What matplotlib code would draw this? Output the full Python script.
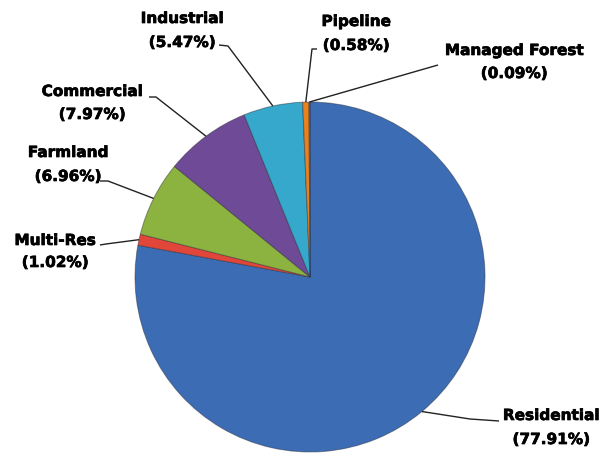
import numpy as np
import matplotlib
matplotlib.use("Agg")
import matplotlib.pyplot as plt
import matplotlib.patheffects as pe

categories = ["Residential", "Multi-Res", "Farmland", "Commercial",
              "Industrial", "Pipeline", "Managed Forest"]
values = [77.91, 1.02, 6.96, 7.97, 5.47, 0.58, 0.09]
colors = ["#3C6DB4", "#E0473A", "#8CB33F", "#6F4A97", "#35A8CB", "#E8821E", "#4A7CC0"]

# label layout (image pixel coords): text centre x, baseline of name, baseline of pct,
# leader line start and elbow
layout = {
    "Residential":    dict(x=551, y1=420, y2=444, start=(499, 421), elbow=(470, 419)),
    "Multi-Res":      dict(x=55,  y1=245, y2=267, start=(100, 245), elbow=(106, 244)),
    "Farmland":       dict(x=68,  y1=157, y2=181, start=(100, 181), elbow=(108, 181)),
    "Commercial":     dict(x=92,  y1=96,  y2=119, start=(149, 97),  elbow=(156, 97)),
    "Industrial":     dict(x=182, y1=23,  y2=47,  start=(219, 45),  elbow=(228, 46)),
    "Pipeline":       dict(x=356, y1=26,  y2=50,  start=(317, 49),  elbow=(312, 49)),
    "Managed Forest": dict(x=514, y1=55,  y2=78,  start=(438, 65),  elbow=(438, 65)),
}

W, H = 615, 454
fig = plt.figure(figsize=(W / 100, H / 100), dpi=100)
ax = fig.add_axes([0, 0, 1, 1])

radius = 175
center = (310, -277)

wedges, _ = ax.pie(values, colors=colors, startangle=90, counterclock=False,
                   radius=radius, center=center,
                   wedgeprops=dict(edgecolor=(0.15, 0.15, 0.2, 0.45), linewidth=0.7),
                   frame=True)
ax.set_xlim(0, W)
ax.set_ylim(-H, 0)
ax.set_aspect("equal")
ax.axis("off")

font = dict(family="DejaVu Sans", fontweight="bold", fontsize=11, color="black",
            path_effects=[pe.withStroke(linewidth=0.5, foreground="black")])

for w, name, val in zip(wedges, categories, values):
    lay = layout[name]
    th = np.deg2rad((w.theta1 + w.theta2) / 2)
    cx, cy = w.center
    ax_pt = (cx + w.r * np.cos(th), cy + w.r * np.sin(th))
    sx, sy = lay["start"]
    ex, ey = lay["elbow"]
    ax.plot([sx, ex, ax_pt[0]], [-sy, -ey, ax_pt[1]], color="#222222", lw=1.0,
            solid_capstyle="butt", zorder=5)
    ax.text(lay["x"], -lay["y1"], name, ha="center", va="baseline", **font)
    ax.text(lay["x"], -lay["y2"], f"({val:.2f}%)", ha="center", va="baseline", **font)

fig.savefig("out.png", dpi=100, facecolor="white")
